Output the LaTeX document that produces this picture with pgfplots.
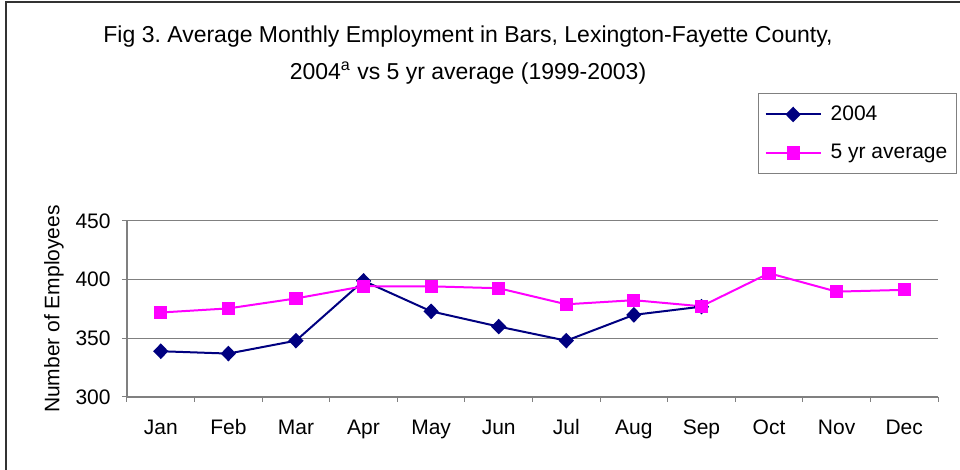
\documentclass[border=0pt]{standalone}
\usepackage{pgfplots}
\pgfplotsset{compat=1.18}
\usepackage{fontspec}
\setmainfont{Liberation Sans}
\frenchspacing
\definecolor{navy}{RGB}{0,0,128}
\definecolor{mag}{RGB}{255,0,255}
\definecolor{gridgray}{RGB}{128,128,128}
\begin{document}
\begin{tikzpicture}
\path[use as bounding box] (0,0) rectangle (480pt,235pt);
\draw[line width=0.8pt, black!80] (3pt,0pt) -- (3pt,234pt) -- (480pt,234pt);
\node[align=center, font=\fontsize{11.5}{18.5}\selectfont] at (234pt,207.5pt)
  {Fig 3. Average Monthly Employment in Bars, Lexington-Fayette County,\\
   2004\textsuperscript{a} vs 5 yr average (1999-2003)};
\begin{axis}[
  at={(63.5pt,36.5pt)}, anchor=south west,
  scale only axis, width=405.5pt, height=88pt,
  xmin=-0.5, xmax=11.5, ymin=300, ymax=450,
  xtick={0,...,11},
  xticklabels={Jan,Feb,Mar,Apr,May,Jun,Jul,Aug,Sep,Oct,Nov,Dec},
  minor xtick={-0.5,0.5,...,11.5},
  ytick={300,350,400,450},
  ymajorgrids, major grid style={gridgray, line width=0.5pt},
  axis lines*=left, axis line style={gridgray, line width=0.6pt, -},
  tick style={gridgray, line width=0.5pt},
  tick align=outside,
  major x tick style={draw=none},
  minor tick length=2.5pt, major tick length=2.5pt,
  /pgf/number format/assume math mode=true,
  tick label style={font=\fontsize{10.5}{12}\selectfont},
  xticklabel style={anchor=base, yshift=-16.5pt},
  yticklabel style={anchor=east, inner sep=0pt, xshift=-5.5pt},
  ylabel={Number of Employees},
  every axis y label/.style={at={(axis description cs:-0.09,0.5)}, rotate=90, anchor=center, font=\fontsize{10.5}{12}\selectfont},
  legend style={at={(axis description cs:1.0234,1.727)}, anchor=north east,
    draw=gridgray, line width=0.6pt, font=\fontsize{10.5}{12}\selectfont,
    inner xsep=3pt, inner ysep=4.5pt, row sep=7.5pt,
    nodes={inner sep=1.5pt},
    /tikz/every odd column/.append style={column sep=3pt}},
  legend cell align=left,
  legend image code/.code={\draw[mark repeat=2,mark phase=2,#1] plot coordinates {(0pt,0pt) (13.75pt,0pt) (27.5pt,0pt)};},
]
\addplot[navy, line width=1pt, mark=diamond*, mark size=3.2pt, mark options={xscale=1.3}]
  coordinates {(0,339) (1,337) (2,348) (3,399) (4,373) (5,360) (6,348) (7,370) (8,377)};
\addlegendentry{2004}
\addplot[mag, line width=1pt, mark=square*, mark size=2.8pt]
  coordinates {(0,372) (1,375.5) (2,384) (3,394.4) (4,394.3) (5,392.7) (6,379) (7,382.5) (8,377.3) (9,405.5) (10,389.8) (11,391.3)};
\addlegendentry{5 yr average}
\end{axis}
\end{tikzpicture}
\end{document}
